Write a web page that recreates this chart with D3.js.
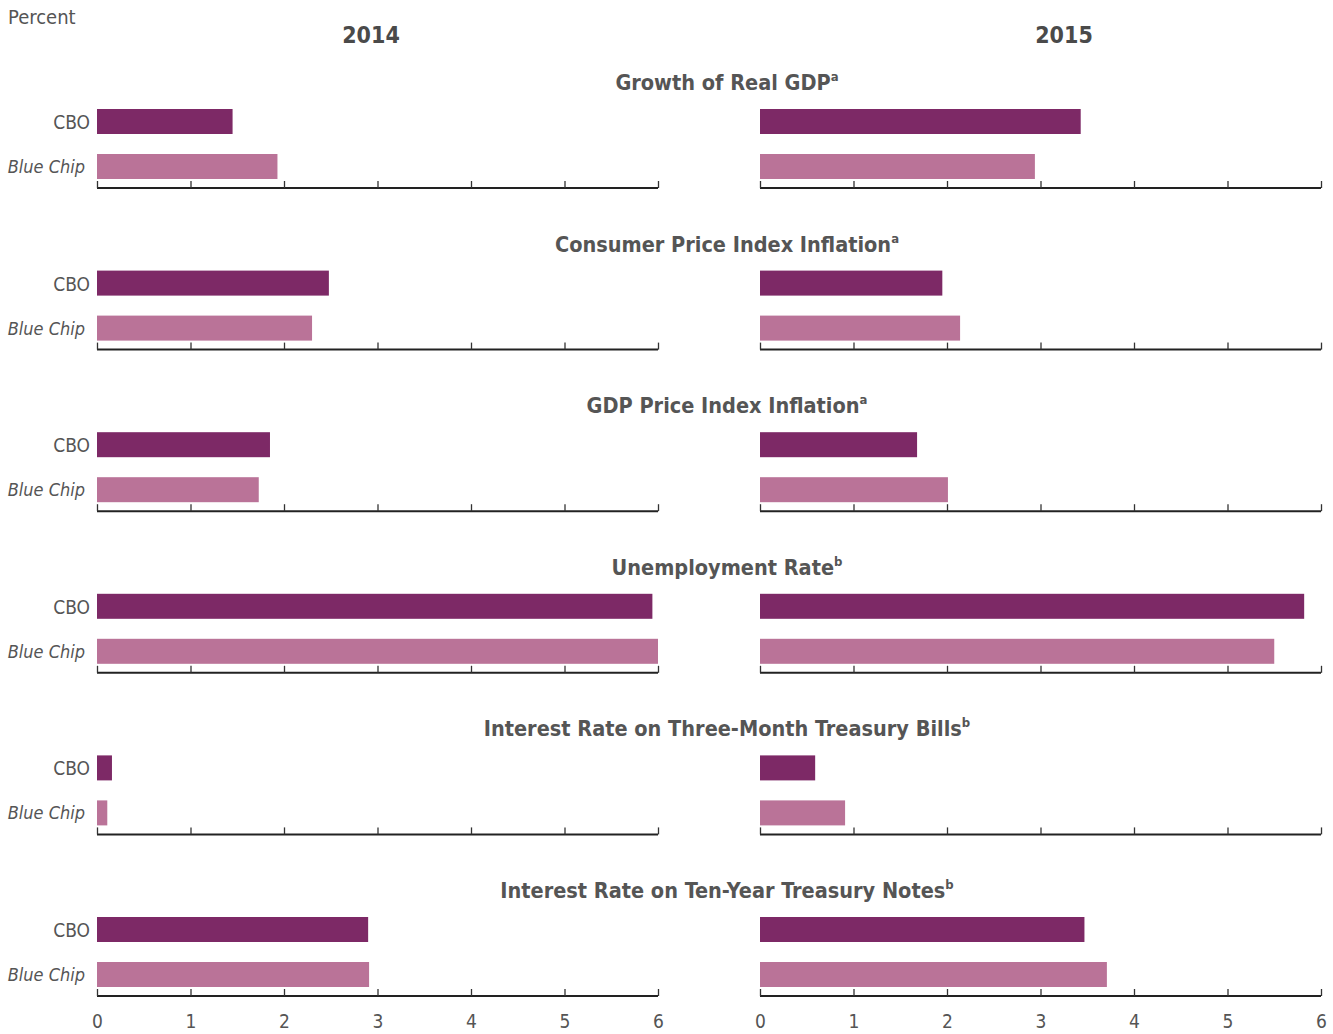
<!DOCTYPE html>
<html lang="en">
<head>
<meta charset="UTF-8">
<title>CBO vs Blue Chip</title>
<script src="https://d3js.org/d3.v7.min.js"></script>
<style>
  body { margin: 0; background: #fff; }
  text { font-family: "Liberation Sans Narrow", "DejaVu Sans Condensed", "Roboto Condensed", sans-serif; fill: #555; }
</style>
</head>
<body>
<svg id="chart" width="1333" height="1034"></svg>
<script>
// data
const years = ["2014", "2015"];
const sources = ["CBO", "Blue Chip"];
const panels = [
  "Growth of Real GDP",
  "Consumer Price Index Inflation",
  "GDP Price Index Inflation",
  "Unemployment Rate",
  "Interest Rate on Three-Month Treasury Bills",
  "Interest Rate on Ten-Year Treasury Notes"
];
const notes = ["a", "a", "a", "b", "b", "b"];
const cbo2014 = [1.45, 2.48, 1.85, 5.94, 0.16, 2.90];
const blueChip2014 = [1.93, 2.30, 1.73, 6.00, 0.11, 2.91];
const cbo2015 = [3.43, 1.95, 1.68, 5.82, 0.59, 3.47];
const blueChip2015 = [2.94, 2.14, 2.01, 5.50, 0.91, 3.71];
const tickValues = [0, 1, 2, 3, 4, 5, 6];

const svg = d3.select("#chart");
const colors = { "CBO": "#7d2966", "Blue Chip": "#ba7398" };

const xScales = [
  d3.scaleLinear().domain([0, 6]).range([97, 658]),
  d3.scaleLinear().domain([0, 6]).range([760, 1321])
];
const rowAxis = d3.scaleLinear().domain([0, 5]).range([188, 996]);

svg.append("text").attr("x", 8).attr("y", 24)
  .style("font-size", "20px").text("Percent");

const headerX = [371, 1064];
years.forEach((yr, j) => {
  svg.append("text").attr("x", headerX[j]).attr("y", 43)
    .attr("text-anchor", "middle")
    .style("font-size", "23px").style("font-weight", "bold")
    .style("fill", "#4a4a4a").text(yr);
});

panels.forEach((name, i) => {
  const ay = rowAxis(i);
  const t = svg.append("text").attr("x", 727).attr("y", ay - 98)
    .attr("text-anchor", "middle")
    .style("font-size", "21.5px").style("font-weight", "bold");
  t.append("tspan").text(name);
  t.append("tspan").attr("dy", -9).style("font-size", "13px").text(notes[i]);

  const vals = [[cbo2014[i], blueChip2014[i]], [cbo2015[i], blueChip2015[i]]];

  // source labels
  svg.append("text").attr("x", 90).attr("y", ay - 59)
    .attr("text-anchor", "end").style("font-size", "19px").text(sources[0]);
  svg.append("text").attr("x", 85).attr("y", ay - 15)
    .attr("text-anchor", "end").style("font-size", "18px")
    .style("font-style", "italic").text(sources[1]);

  vals.forEach((pair, j) => {
    const x = xScales[j];
    const g = svg.append("g");
    g.selectAll("rect").data(pair).enter().append("rect")
      .attr("x", x(0))
      .attr("y", (d, k) => ay + (k === 0 ? -79 : -34))
      .attr("width", d => x(d) - x(0))
      .attr("height", 25)
      .attr("fill", (d, k) => colors[sources[k]]);

    const axis = d3.axisTop(x).tickValues(tickValues).tickSize(7).tickSizeOuter(0)
      .tickFormat(i === panels.length - 1 ? d3.format("d") : "");
    const ag = svg.append("g").attr("transform", `translate(0,${ay})`).call(axis);
    ag.select(".domain").attr("stroke", "#222").attr("stroke-width", 2)
      .attr("d", `M${x(0)},0H${x(6)}`);
    ag.selectAll(".tick line").attr("stroke", "#333").attr("stroke-width", 1.3);
    ag.selectAll(".tick text").attr("y", 26).attr("dy", "0.32em")
      .style("font-size", "19px").style("fill", "#555");
  });
});
</script>
</body>
</html>
